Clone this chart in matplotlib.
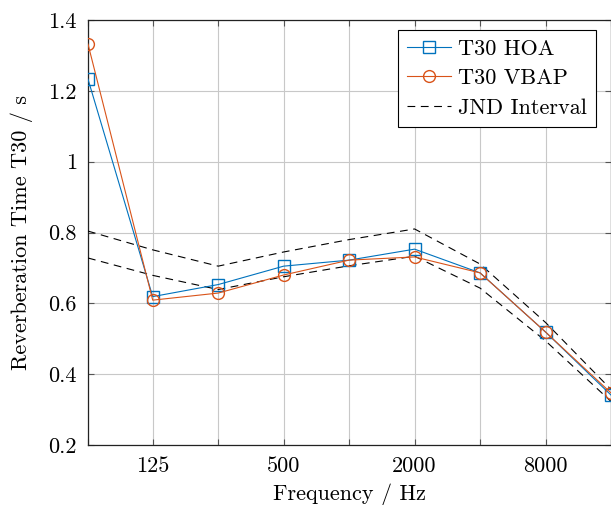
import matplotlib
matplotlib.use("Agg")
import matplotlib.pyplot as plt

freqs = [63, 125, 250, 500, 1000, 2000, 4000, 8000, 16000]
tick_labels = ["", "125", "", "500", "", "2000", "", "8000", ""]
t30_hoa = [1.233, 0.619, 0.653, 0.705, 0.722, 0.753, 0.686, 0.519, 0.341]
t30_vbap = [1.332, 0.609, 0.629, 0.680, 0.722, 0.731, 0.686, 0.519, 0.347]
jnd_upper = [0.804, 0.751, 0.705, 0.745, 0.780, 0.810, 0.711, 0.546, 0.357]
jnd_lower = [0.728, 0.679, 0.639, 0.675, 0.706, 0.733, 0.643, 0.494, 0.323]
yticks = [0.2, 0.4, 0.6, 0.8, 1.0, 1.2, 1.4]
ytick_labels = ["0.2", "0.4", "0.6", "0.8", "1", "1.2", "1.4"]

plt.rcParams['font.family'] = ['cmr10', 'DejaVu Serif']
plt.rcParams['axes.formatter.use_mathtext'] = True

fig = plt.figure(figsize=(6.11, 5.05), dpi=100)
ax = fig.add_axes([88/611, 1-445/505, 1-88/611, (445-20)/505])

blue = '#0072BD'
orange = '#D95319'
fs = 16

ax.plot(freqs, t30_hoa, color=blue, lw=0.8, marker='s', ms=8.5, mfc='none', mec=blue, mew=1.0, label='T30 HOA', zorder=4)
ax.plot(freqs, t30_vbap, color=orange, lw=0.8, marker='o', ms=8.5, mfc='none', mec=orange, mew=1.0, label='T30 VBAP', zorder=4)
ax.plot(freqs, jnd_upper, color='black', lw=0.8, ls=(0, (7, 5)), label='JND Interval', zorder=3)
ax.plot(freqs, jnd_lower, color='black', lw=0.8, ls=(0, (7, 5)), zorder=3)

ax.set_xscale('log', base=2)
ax.set_xlim(freqs[0], freqs[-1])
ax.set_ylim(0.2, 1.4)
ax.set_xticks(freqs)
ax.set_xticklabels(tick_labels)
ax.minorticks_off()
ax.set_yticks(yticks)
ax.set_yticklabels(ytick_labels)

ax.grid(True, color='#c8c8c8', lw=0.8)
ax.set_axisbelow(True)
ax.tick_params(direction='in', top=True, right=True, length=4, width=0.8, color='#555555', labelsize=fs, pad=8)
for s in ax.spines.values():
    s.set_color('#222222')
    s.set_linewidth(0.9)

ax.set_xlabel('Frequency / Hz', fontsize=fs, labelpad=6)
ax.set_ylabel('Reverberation Time T30 / s', fontsize=fs, labelpad=11)

leg = ax.legend(loc='upper right', bbox_to_anchor=(0.971, 0.976), borderaxespad=0, fontsize=fs, frameon=True,
                fancybox=False, edgecolor='black', framealpha=1, handlelength=2.0, borderpad=0.4,
                labelspacing=0.45, handletextpad=0.3, markerfirst=True)
leg.get_frame().set_linewidth(0.8)

fig.savefig('out.png', dpi=100)
